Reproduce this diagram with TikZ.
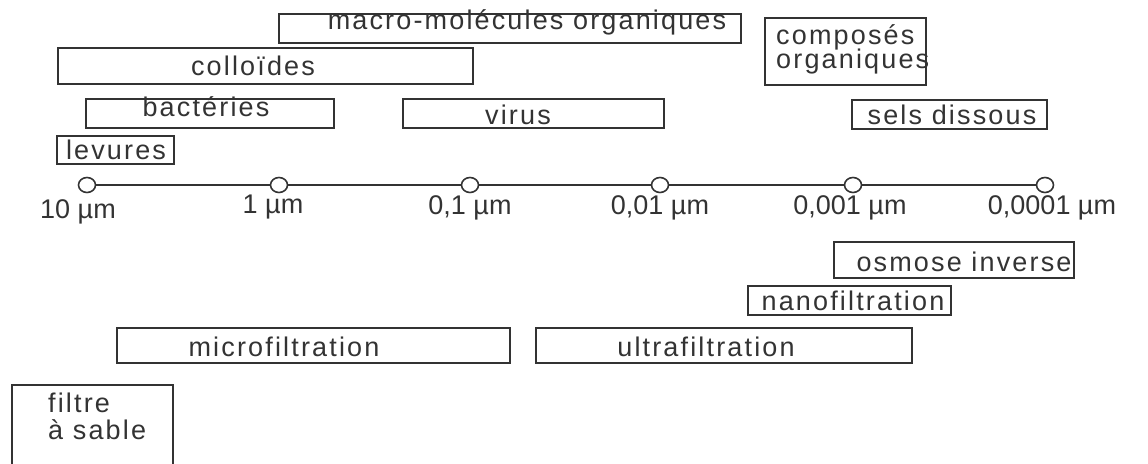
\documentclass[tikz,border=0pt]{standalone}
\usepackage{fontspec}
\setmainfont{Liberation Sans}
\newfontfamily\spaced[LetterSpace=8]{Liberation Sans}
\usetikzlibrary{shapes.geometric}
\definecolor{ink}{HTML}{333333}
\begin{document}
\begin{tikzpicture}[x=1pt,y=-1pt,
  box/.style={draw=ink,line width=1.8pt,rectangle,inner sep=0pt,anchor=north west},
  txt/.style={text=ink,inner sep=0pt,font=\spaced\fontsize{27}{31}\selectfont},
  ax/.style={text=ink,inner sep=0pt,font=\fontsize{27}{31}\selectfont},
  tick/.style={draw=ink,line width=1.6pt,ellipse,fill=white,minimum width=17pt,minimum height=15pt,inner sep=0pt},
  axis/.style={draw=ink,line width=1.4pt}]
\useasboundingbox (0,0) rectangle (1148,463);
% upper boxes
\node[box,minimum width=462pt,minimum height=29pt] (macro) at (278,13) {};
\node[txt] (tmacro) at (527,22) {macro-molécules organiques};
\node[box,minimum width=415pt,minimum height=36pt] (coll) at (57,47) {};
\node[txt] (tcoll) at (253,66) {colloïdes};
\node[box,minimum width=248pt,minimum height=29pt] (bact) at (85,98) {};
\node[txt] (tbact) at (206,107) {bactéries};
\node[box,minimum width=261pt,minimum height=29pt] (vir) at (402,98) {};
\node[txt] (tvir) at (518,115) {virus};
\node[box,minimum width=117pt,minimum height=28pt] (lev) at (56,135) {};
\node[txt] (tlev) at (116,150) {levures};
\node[box,minimum width=161pt,minimum height=67pt] (comp) at (764,17) {};
\node[txt,anchor=west] (tcomp1) at (776,37) {composés};
\node[txt,anchor=west] (tcomp2) at (776,62) {organiques};
\node[box,minimum width=195pt,minimum height=29pt] (sels) at (851,99) {};
\node[txt] (tsels) at (952,115) {sels dissous};
% axis
\node[tick] (a1) at (87,185) {};
\node[tick] (a2) at (279,185) {};
\node[tick] (a3) at (470,185) {};
\node[tick] (a4) at (660,185) {};
\node[tick] (a5) at (853,185) {};
\node[tick] (a6) at (1045,185) {};
\draw[axis] (a1) -- (a2);
\draw[axis] (a2) -- (a3);
\draw[axis] (a3) -- (a4);
\draw[axis] (a4) -- (a5);
\draw[axis] (a5) -- (a6);
\node[ax] (l1) at (78,212) {10 µm};
\node[ax] (l2) at (273,207) {1 µm};
\node[ax] (l3) at (470,208) {0,1 µm};
\node[ax] (l4) at (660,208) {0,01 µm};
\node[ax] (l5) at (850,208) {0,001 µm};
\node[ax] (l6) at (1052,208) {0,0001 µm};
% lower boxes
\node[box,minimum width=240pt,minimum height=36pt] (osm) at (833,241) {};
\node[txt] (tosm) at (964,262) {osmose inverse};
\node[box,minimum width=203pt,minimum height=29pt] (nano) at (747,285) {};
\node[txt] (tnano) at (853,301) {nanofiltration};
\node[box,minimum width=393pt,minimum height=35pt] (micro) at (116,327) {};
\node[txt] (tmicro) at (284,347) {microfiltration};
\node[box,minimum width=376pt,minimum height=35pt] (ultra) at (535,327) {};
\node[txt] (tultra) at (706,347) {ultrafiltration};
\node[box,minimum width=161pt,minimum height=90pt] (sable) at (11,384) {};
\node[txt,anchor=west] (tsable1) at (48,403) {filtre};
\node[txt,anchor=west] (tsable2) at (48,430) {à sable};
\end{tikzpicture}
\end{document}
